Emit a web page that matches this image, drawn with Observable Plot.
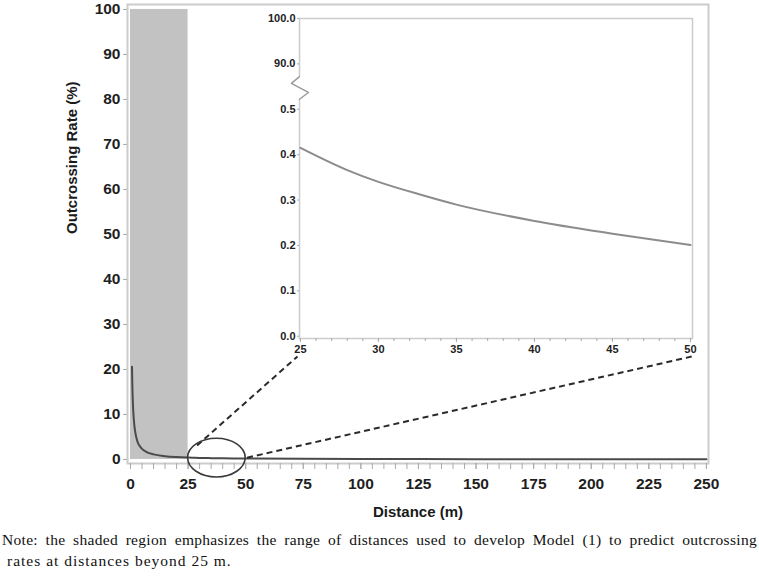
<!DOCTYPE html>
<html>
<head>
<meta charset="utf-8">
<script src="https://cdn.jsdelivr.net/npm/d3@7"></script>
<script src="https://cdn.jsdelivr.net/npm/@observablehq/plot@0.6"></script>
<style>
  html, body { margin: 0; padding: 0; background: white; }
  #wrap { position: relative; width: 759px; height: 579px; overflow: hidden; }
  #main { position: absolute; left: 0; top: 0; }
  #inset { position: absolute; left: 250px; top: 10px; }
  #caption { position: absolute; left: 2px; top: 529px; width: 755px;
    font-family: "Liberation Serif", "Times New Roman", serif; font-size: 15.5px; line-height: 21px; color: #111; letter-spacing: 0.3px; }
  #caption .l1 { text-align: justify; text-align-last: justify; white-space: nowrap; }
  #caption .l2 { padding-left: 5px; letter-spacing: 1px; }
</style>
</head>
<body>
<div id="wrap">
  <div id="main"></div>
  <div id="inset"></div>
  <div id="caption">
    <div class="l1">Note: the shaded region emphasizes the range of distances used to develop Model (1) to predict outcrossing</div>
    <div class="l2">rates at distances beyond 25 m.</div>
  </div>
</div>
<script>
// ---- data ----
const distance = [0.65, 0.8, 1, 1.5, 2, 3, 4, 5, 7, 10, 15, 20, 25, 28, 30, 33, 35, 40, 45, 50, 75, 100, 125, 150, 175, 200, 225, 250];
const rate     = [20.6, 16.5, 13.0, 8.5, 6.3, 4.0, 3.0, 2.35, 1.65, 1.13, 0.73, 0.53, 0.415, 0.366, 0.34, 0.309, 0.29, 0.254, 0.226, 0.201, 0.13, 0.095, 0.075, 0.062, 0.052, 0.045, 0.04, 0.036];

const mainYTicks = [0, 10, 20, 30, 40, 50, 60, 70, 80, 90, 100];
const mainXTicks = [0, 25, 50, 75, 100, 125, 150, 175, 200, 225, 250];
const mainXMinor = d3.range(0, 251, 5);

const shadedRange = [{x1: 0, x2: 25, y1: 0, y2: 100}];
const zoomWindow = [25, 50];

const insetYTickValues = [0, 0.1, 0.2, 0.3, 0.4, 0.5, 0.6, 0.7];
const insetYTickLabels = ["0.0", "0.1", "0.2", "0.3", "0.4", "0.5", "90.0", "100.0"];
const insetXTicks = [25, 30, 35, 40, 45, 50];
const insetXMinor = d3.range(25, 51, 1);

const connectors = [
  {x1: 28.9, y1: 3.1, x2: 72.5, y2: 22.9},
  {x1: 50.6, y1: 0.4, x2: 243.9, y2: 22.9}
];
const axisBreak = [
  {x: 24.94, y: 0.572}, {x: 24.42, y: 0.557}, {x: 25.51, y: 0.537}, {x: 24.94, y: 0.522}
];

const points = distance.map((d, i) => ({distance: d, rate: rate[i]}));
const insetPoints = points.filter(p => p.distance >= zoomWindow[0] && p.distance <= zoomWindow[1]);

// ---- main chart ----
const ellipseMark = (index, scales) => {
  const e = document.createElementNS("http://www.w3.org/2000/svg", "ellipse");
  const cx = scales.x((zoomWindow[0] + zoomWindow[1]) / 2);
  e.setAttribute("cx", cx);
  e.setAttribute("cy", scales.y(0.3));
  e.setAttribute("rx", scales.x(zoomWindow[1]) - cx);
  e.setAttribute("ry", scales.y(0) - scales.y(4.3));
  e.setAttribute("fill", "none");
  e.setAttribute("stroke", "#3a3a3a");
  e.setAttribute("stroke-width", 1.6);
  return e;
};

const main = Plot.plot({
  width: 759, height: 525,
  marginLeft: 127, marginRight: 51, marginTop: 4, marginBottom: 62,
  x: {domain: [-1.3, 250.9]},
  y: {domain: [-0.9, 101.1]},
  style: {fontFamily: "'Liberation Sans', Arial, sans-serif", fontSize: "15.5px", color: "#1e1e1e", background: "white"},
  marks: [
    Plot.rect(shadedRange, {x1: "x1", x2: "x2", y1: "y1", y2: "y2", fill: "#c2c2c2"}),
    Plot.frame({stroke: "#cccccc", strokeWidth: 2}),
    Plot.axisY({ticks: mainYTicks, tickSize: 4, tickPadding: 3, label: null, stroke: "#aaa", fontWeight: "bold"}),
    Plot.axisX({ticks: mainXMinor, tickSize: 6, tickFormat: () => "", label: null, stroke: "#aaa"}),
    Plot.axisX({ticks: mainXTicks, tickSize: 6, tickPadding: 8, label: null, stroke: "#aaa", fontWeight: "bold"}),
    Plot.line(points, {x: "distance", y: "rate", stroke: "#4a4a4a", strokeWidth: 2, curve: "monotone-x"}),
    Plot.link(connectors, {x1: "x1", y1: "y1", x2: "x2", y2: "y2", stroke: "#2a2a2a", strokeWidth: 2, strokeDasharray: "6,4"}),
    ellipseMark,
    Plot.text(["Outcrossing Rate (%)"], {frameAnchor: "left", dx: -55, rotate: -90, fontWeight: "bold", fontSize: 15, fill: "#1a1a1a"}),
    Plot.text(["Distance (m)"], {frameAnchor: "bottom", dy: 53, fontWeight: "bold", fontSize: 15, fill: "#1a1a1a"})
  ]
});
document.getElementById("main").append(main);

// ---- inset chart ----
const xDom = [24.94, 50.13];
const inset = Plot.plot({
  width: 450, height: 355,
  marginLeft: 49, marginRight: 8, marginTop: 8, marginBottom: 27,
  x: {domain: xDom},
  y: {domain: [-0.005, 0.7]},
  style: {fontFamily: "'Liberation Sans', Arial, sans-serif", fontSize: "11px", color: "#222", background: "transparent"},
  marks: [
    Plot.frame({fill: "white", stroke: "#cccccc", strokeWidth: 1.5}),
    Plot.ruleX([xDom[0]], {y1: 0.522, y2: 0.572, stroke: "white", strokeWidth: 4}),
    Plot.line(axisBreak, {x: "x", y: "y", stroke: "#999", strokeWidth: 1.4}),
    Plot.axisY({ticks: insetYTickValues, tickFormat: (d) => insetYTickLabels[insetYTickValues.indexOf(d)], tickSize: 2, tickPadding: 2, label: null, stroke: "#aaa", fontWeight: "bold"}),
    Plot.axisX({ticks: insetXMinor, tickSize: 3, tickFormat: () => "", label: null, stroke: "#aaa"}),
    Plot.axisX({ticks: insetXTicks, tickSize: 4, tickPadding: 3, label: null, stroke: "#aaa", fontWeight: "bold"}),
    Plot.line(insetPoints, {x: "distance", y: "rate", stroke: "#8c8c8c", strokeWidth: 2, curve: "monotone-x"})
  ]
});
document.getElementById("inset").append(inset);
</script>
</body>
</html>
